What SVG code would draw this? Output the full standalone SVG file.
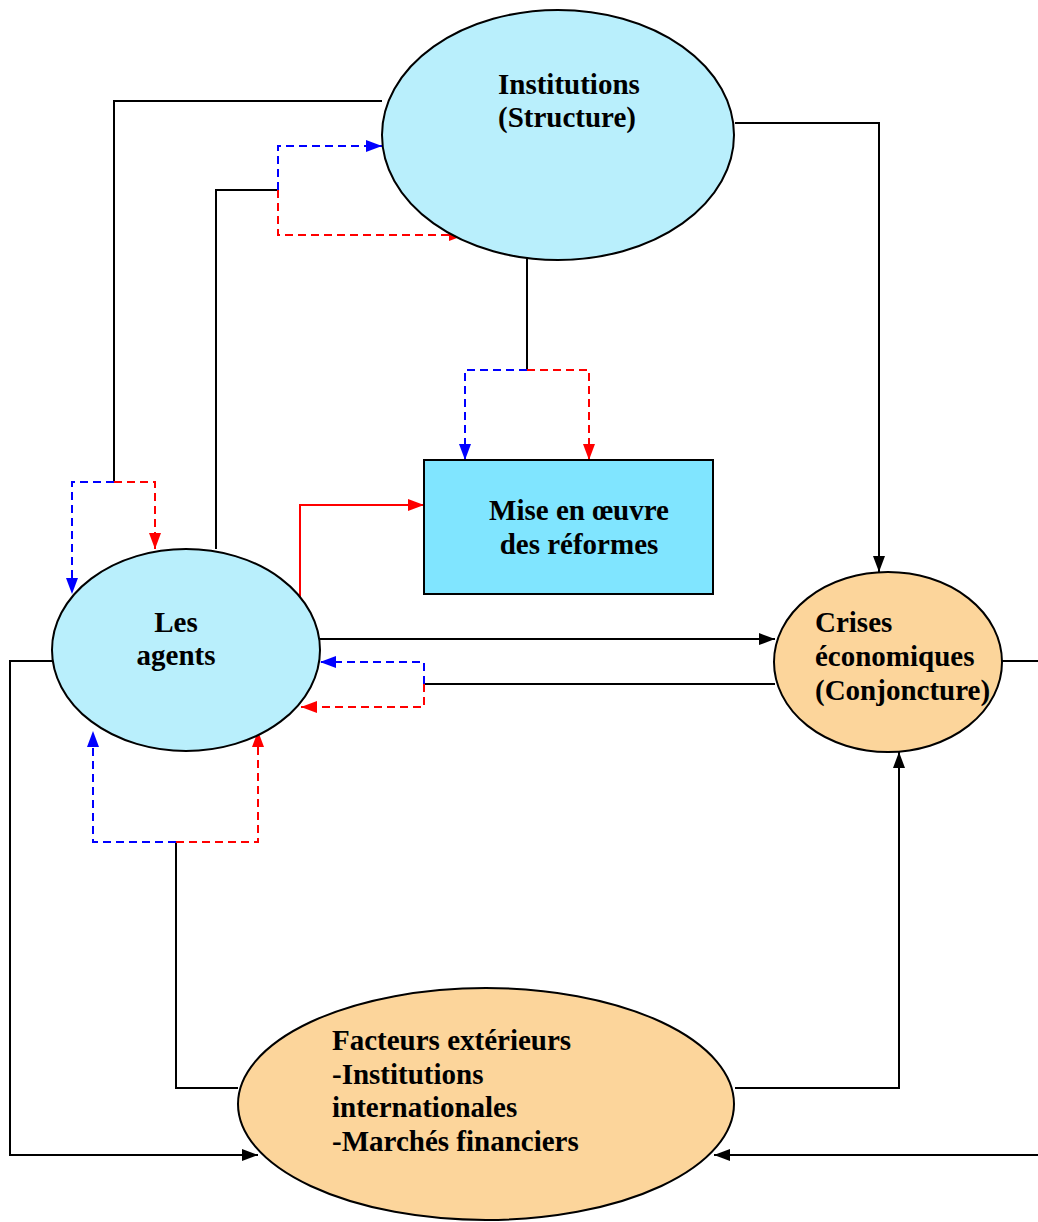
<svg xmlns="http://www.w3.org/2000/svg" width="1038" height="1222" viewBox="0 0 1038 1222">
<style>
.node{stroke:#000;stroke-width:2}
.blue{fill:#B9EFFC}
.orange{fill:#FCD59B}
.box{fill:#80E5FF}
.lbl{font-family:"Liberation Serif",serif;font-weight:bold;font-size:29px;fill:#000}
.k{fill:none;stroke:#000;stroke-width:2}
.bd{fill:none;stroke:#0000FF;stroke-width:2;stroke-dasharray:8 5}
.rd{fill:none;stroke:#FF0000;stroke-width:2;stroke-dasharray:8 5}
.rs{fill:none;stroke:#FF0000;stroke-width:2}
</style>
<defs>
<marker id="ak" viewBox="0 0 16 12" refX="16" refY="6" markerWidth="16" markerHeight="12" markerUnits="userSpaceOnUse" orient="auto"><path d="M0,0L16,6L0,12z" fill="#000"/></marker>
<marker id="ab" viewBox="0 0 16 12" refX="16" refY="6" markerWidth="16" markerHeight="12" markerUnits="userSpaceOnUse" orient="auto"><path d="M0,0L16,6L0,12z" fill="#0000FF"/></marker>
<marker id="ar" viewBox="0 0 16 12" refX="16" refY="6" markerWidth="16" markerHeight="12" markerUnits="userSpaceOnUse" orient="auto"><path d="M0,0L16,6L0,12z" fill="#FF0000"/></marker>
</defs>
<g id="connectors">
<path class="k" d="M382,101H114V482"/>
<path class="bd" d="M114,482H72V594" marker-end="url(#ab)"/>
<path class="rd" d="M114,482H155V549" marker-end="url(#ar)"/>
<path class="k" d="M216,549V190H278"/>
<path class="bd" d="M278,190V146H382" marker-end="url(#ab)"/>
<path class="rd" d="M278,190V235H465" marker-end="url(#ar)"/>
<path class="k" d="M527,258V370"/>
<path class="bd" d="M527,370H465V460" marker-end="url(#ab)"/>
<path class="rd" d="M527,370H589V460" marker-end="url(#ar)"/>
<path class="rs" d="M300,597V505H424" marker-end="url(#ar)"/>
<path class="k" d="M735,123H879V572" marker-end="url(#ak)"/>
<path class="k" d="M320,639H775" marker-end="url(#ak)"/>
<path class="k" d="M775,684H424"/>
<path class="bd" d="M424,684V662H320" marker-end="url(#ab)"/>
<path class="rd" d="M424,684V707H301" marker-end="url(#ar)"/>
<path class="k" d="M238,1088H176V842"/>
<path class="bd" d="M176,842H93V731" marker-end="url(#ab)"/>
<path class="rd" d="M176,842H258V731" marker-end="url(#ar)"/>
<path class="k" d="M735,1088H899V752" marker-end="url(#ak)"/>
<path class="k" d="M52,661H10V1155H258" marker-end="url(#ak)"/>
<path class="k" d="M1002,661H1038"/>
<path class="k" d="M1038,1155H714" marker-end="url(#ak)"/>
</g>
<g id="institutions">
<ellipse class="node blue" cx="558" cy="135" rx="176" ry="125"/>
<text class="lbl" x="498" y="94">Institutions</text>
<text class="lbl" x="498" y="127">(Structure)</text>
</g>
<g id="mise">
<rect class="node box" x="424" y="460" width="289" height="134"/>
<text class="lbl" x="579" y="520" text-anchor="middle">Mise en œuvre</text>
<text class="lbl" x="579" y="554" text-anchor="middle">des réformes</text>
</g>
<g id="agents">
<ellipse class="node blue" cx="186" cy="650" rx="134" ry="101"/>
<text class="lbl" x="176" y="632" text-anchor="middle">Les</text>
<text class="lbl" x="176" y="665" text-anchor="middle">agents</text>
</g>
<g id="crises">
<ellipse class="node orange" cx="888" cy="662" rx="114" ry="90"/>
<text class="lbl" x="815" y="632">Crises</text>
<text class="lbl" x="815" y="666">économiques</text>
<text class="lbl" x="815" y="700">(Conjoncture)</text>
</g>
<g id="facteurs">
<ellipse class="node orange" cx="486" cy="1104" rx="248" ry="116"/>
<text class="lbl" x="332" y="1050">Facteurs extérieurs</text>
<text class="lbl" x="332" y="1084">-Institutions</text>
<text class="lbl" x="332" y="1117">internationales</text>
<text class="lbl" x="332" y="1151">-Marchés financiers</text>
</g>
</svg>
